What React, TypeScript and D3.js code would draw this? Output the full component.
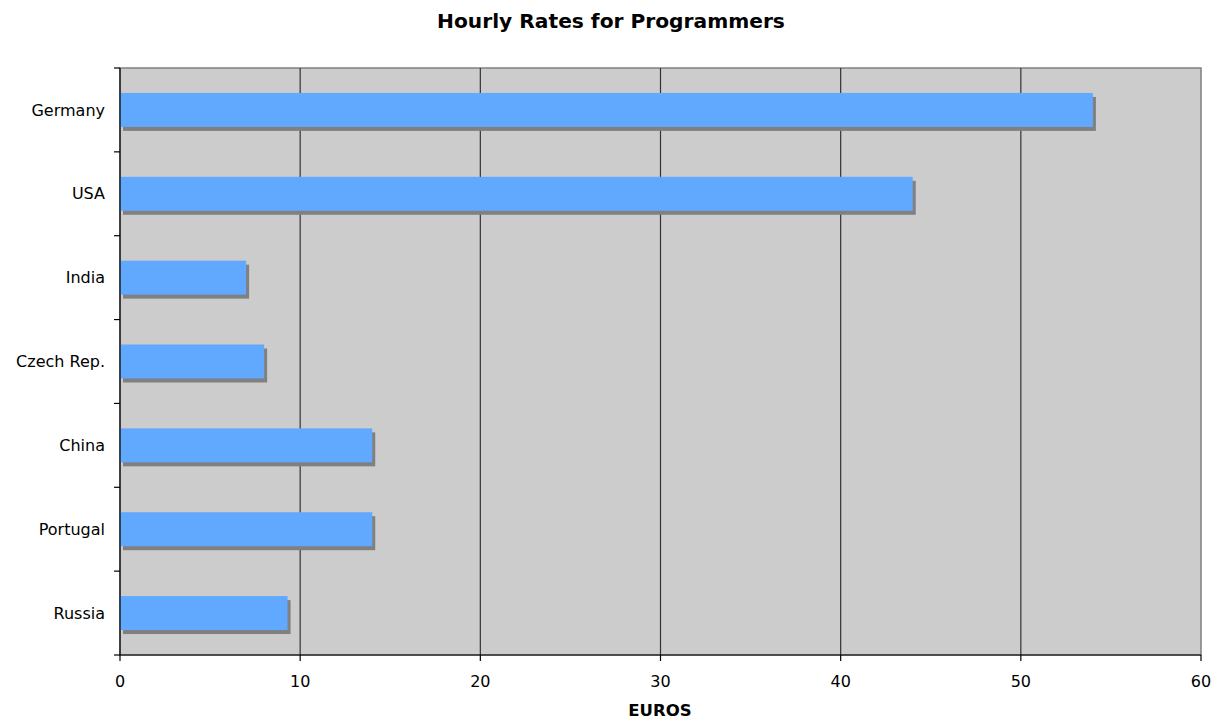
import React from "react";
import * as d3 from "d3";

const categories = ["Germany", "USA", "India", "Czech Rep.", "China", "Portugal", "Russia"];
const values = [54, 44, 7, 8, 14, 14, 9.3];
const xTicks = [0, 10, 20, 30, 40, 50, 60];

export default function App() {
  const W = 1221, H = 720;
  const left = 120, right = 1201, top = 68, bottom = 655;
  const x = d3.scaleLinear().domain([0, 60]).range([left, right]);
  const y = d3.scaleBand().domain(categories).range([top, bottom]).paddingInner(0.595).paddingOuter(0.2975);
  const font = "Verdana, 'DejaVu Sans', sans-serif";
  const boundaries = d3.range(categories.length + 1).map(i => top + (i * (bottom - top)) / categories.length);
  return (
    <svg width={W} height={H} style={{ position: "absolute", left: 0, top: 0 }} fontFamily={font}>
      <rect x={0} y={0} width={W} height={H} fill="#fff" />
      <text x={611} y={28} textAnchor="middle" fontSize={20.2} fontWeight="bold">Hourly Rates for Programmers</text>
      <rect x={left} y={top} width={right - left} height={bottom - top} fill="#cccccc" stroke="#808080" strokeWidth={1.5} />
      {xTicks.slice(1, -1).map(t => (
        <line key={t} x1={x(t)} x2={x(t)} y1={top} y2={bottom} stroke="#333" strokeWidth={1.2} />
      ))}
      {categories.map((c, i) => (
        <g key={c}>
          <rect x={x(0) + 3} y={(y(c) as number) + 4} width={x(values[i]) - x(0)} height={y.bandwidth()} fill="#808080" />
          <rect x={x(0)} y={y(c) as number} width={x(values[i]) - x(0)} height={y.bandwidth()} fill="#61a8ff" />
          <text x={105} y={(y(c) as number) + y.bandwidth() / 2} dy="0.35em" textAnchor="end" fontSize={16}>{c}</text>
        </g>
      ))}
      <line x1={left} x2={left} y1={top} y2={bottom} stroke="#000" strokeWidth={1.2} />
      <line x1={left} x2={right} y1={bottom} y2={bottom} stroke="#000" strokeWidth={1.2} />
      {boundaries.map((b, i) => (
        <line key={i} x1={left - 6} x2={left} y1={b} y2={b} stroke="#000" strokeWidth={1.2} />
      ))}
      {xTicks.map(t => (
        <g key={t}>
          <line x1={x(t)} x2={x(t)} y1={bottom} y2={bottom + 6} stroke="#000" strokeWidth={1.2} />
          <text x={x(t)} y={687} textAnchor="middle" fontSize={16}>{t}</text>
        </g>
      ))}
      <text x={660} y={716} textAnchor="middle" fontSize={16.5} fontWeight="bold">EUROS</text>
    </svg>
  );
}
